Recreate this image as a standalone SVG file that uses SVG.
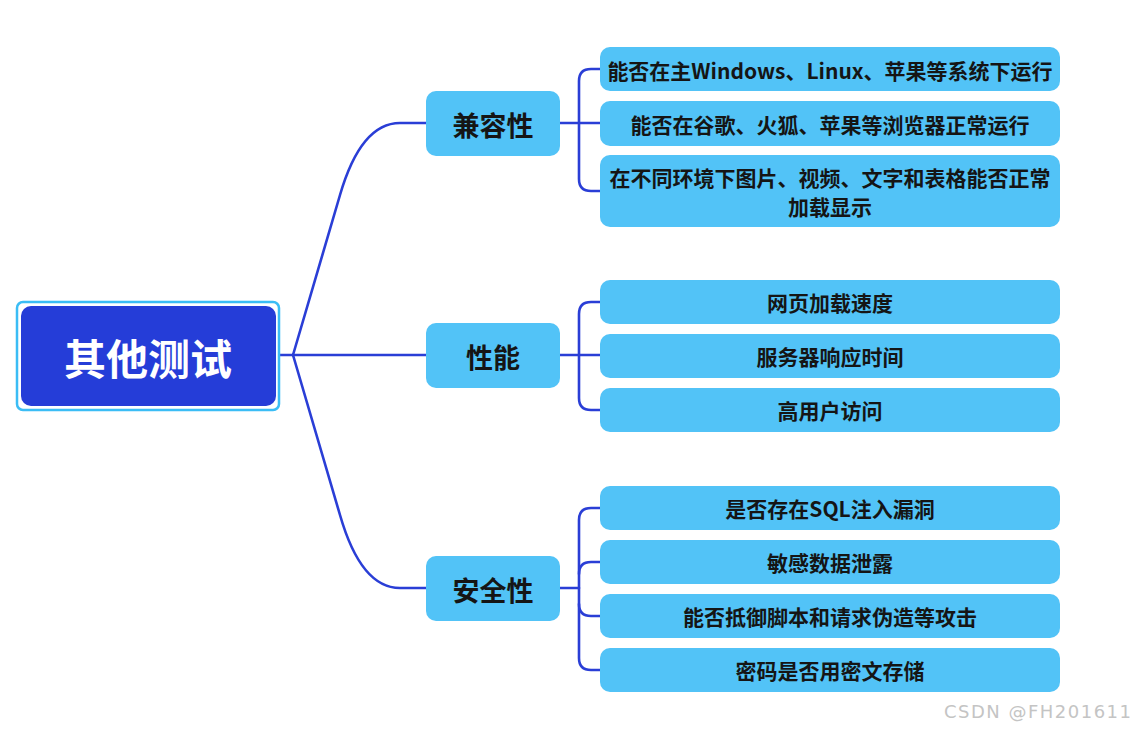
<svg xmlns="http://www.w3.org/2000/svg" width="1134" height="735" viewBox="0 0 1134 735">
<style>
.conn{fill:none;stroke:#2a3ed6;stroke-width:2.6;stroke-linecap:round;stroke-linejoin:round}
.box{fill:#52c3f7}
.t{font-family:"Noto Sans CJK SC","Liberation Sans",sans-serif;font-weight:bold;fill:#151515;text-anchor:middle;dominant-baseline:central}
.leaf{font-size:21px}
.br{font-size:27px}
</style>
<rect width="1134" height="735" fill="#ffffff"/>
<g id="connectors">
<path class="conn" d="M276,355 H426"/>
<path class="conn" d="M293,355 L340,195 Q361,123 400,123 H426"/>
<path class="conn" d="M293,355 L340,515 Q361,588 400,588 H426"/>
<path class="conn" d="M560,123 H600"/>
<path class="conn" d="M600,69 H591 Q579,69 579,81 V179 Q579,191 591,191 H600"/>
<path class="conn" d="M560,355 H600"/>
<path class="conn" d="M600,302 H591 Q579,302 579,314 V398 Q579,410 591,410 H600"/>
<path class="conn" d="M560,588 H579"/>
<path class="conn" d="M600,508 H591 Q579,508 579,520 V658 Q579,670 591,670 H600"/>
<path class="conn" d="M579,574 Q579,562 591,562 H600"/>
<path class="conn" d="M579,604 Q579,616 591,616 H600"/>
</g>
<g id="root">
<rect x="17" y="302" width="262" height="108" rx="6" fill="#ffffff" stroke="#3bbdf5" stroke-width="2.5"/>
<rect x="21" y="306" width="255" height="100" rx="10" fill="#253dd8"/>
<text x="148" y="356" class="t" style="font-size:42px;fill:#ffffff">其他测试</text>
</g>
<g id="b1">
<rect class="box" x="426" y="91" width="134" height="65" rx="10"/>
<text class="t br" x="493" y="124">兼容性</text>
</g>
<g id="b2">
<rect class="box" x="426" y="323" width="134" height="65" rx="10"/>
<text class="t br" x="493" y="356">性能</text>
</g>
<g id="b3">
<rect class="box" x="426" y="556" width="134" height="65" rx="10"/>
<text class="t br" x="493" y="589">安全性</text>
</g>
<g id="l1">
<rect class="box" x="600" y="47" width="460" height="44" rx="10"/>
<text class="t leaf" x="830" y="70">能否在主Windows、Linux、苹果等系统下运行</text>
</g>
<g id="l2">
<rect class="box" x="600" y="101" width="460" height="45" rx="10"/>
<text class="t leaf" x="830" y="124">能否在谷歌、火狐、苹果等浏览器正常运行</text>
</g>
<g id="l3">
<rect class="box" x="600" y="155" width="460" height="72" rx="10"/>
<text class="t leaf" x="830" y="177">在不同环境下图片、视频、文字和表格能否正常</text>
<text class="t leaf" x="830" y="206">加载显示</text>
</g>
<g id="l4">
<rect class="box" x="600" y="280" width="460" height="44" rx="10"/>
<text class="t leaf" x="830" y="302">网页加载速度</text>
</g>
<g id="l5">
<rect class="box" x="600" y="334" width="460" height="44" rx="10"/>
<text class="t leaf" x="830" y="356">服务器响应时间</text>
</g>
<g id="l6">
<rect class="box" x="600" y="388" width="460" height="44" rx="10"/>
<text class="t leaf" x="830" y="410">高用户访问</text>
</g>
<g id="l7">
<rect class="box" x="600" y="486" width="460" height="44" rx="10"/>
<text class="t leaf" x="830" y="508">是否存在SQL注入漏洞</text>
</g>
<g id="l8">
<rect class="box" x="600" y="540" width="460" height="44" rx="10"/>
<text class="t leaf" x="830" y="562">敏感数据泄露</text>
</g>
<g id="l9">
<rect class="box" x="600" y="594" width="460" height="44" rx="10"/>
<text class="t leaf" x="830" y="616">能否抵御脚本和请求伪造等攻击</text>
</g>
<g id="l10">
<rect class="box" x="600" y="648" width="460" height="44" rx="10"/>
<text class="t leaf" x="830" y="670">密码是否用密文存储</text>
</g>
<text x="944" y="718" font-family="DejaVu Sans, sans-serif" font-size="18" fill="#c4c4c4" textLength="187" lengthAdjust="spacing">CSDN @FH201611</text>
</svg>
